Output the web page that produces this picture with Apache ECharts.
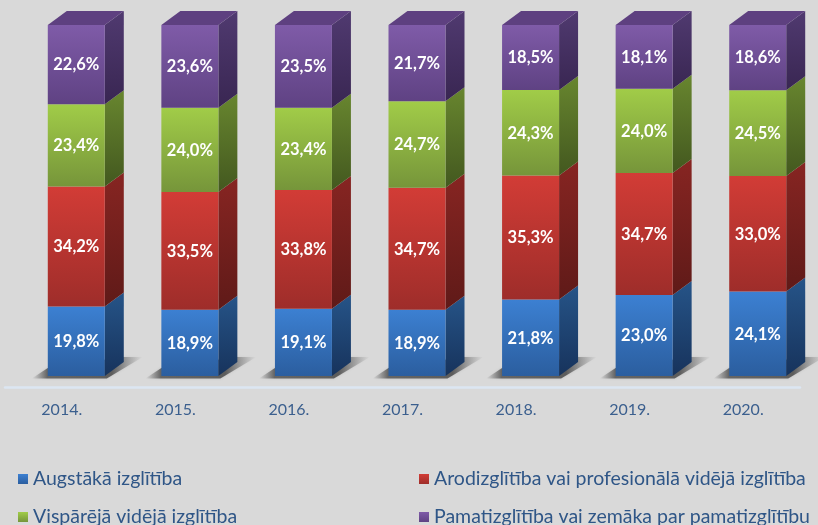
<!DOCTYPE html>
<html><head><meta charset="utf-8">
<style>html,body{margin:0;padding:0;background:#d9d9d9}#c{width:818px;height:525px}</style>
<script src="https://cdn.jsdelivr.net/npm/echarts@6/dist/echarts.min.js"></script>
</head><body><div id="c"></div>
<script>
const years = ['2014.','2015.','2016.','2017.','2018.','2019.','2020.'];
const augstaka = [19.8,18.9,19.1,18.9,21.8,23.0,24.1];
const arodizglitiba = [34.2,33.5,33.8,34.7,35.3,34.7,33.0];
const visparejaVideja = [23.4,24.0,23.4,24.7,24.3,24.0,24.5];
const pamatizglitiba = [22.6,23.6,23.5,21.7,18.5,18.1,18.6];
const seriesNames = ['Augstākā izglītība','Arodizglītība vai profesionālā vidējā izglītība','Vispārējā vidējā izglītība','Pamatizglītība vai zemāka par pamatizglītību'];
const seriesValues = [augstaka,arodizglitiba,visparejaVideja,pamatizglitiba];

const FONT = 'Lato, "Open Sans", sans-serif';
const BAR_W = 57, DX = 19, DY = 14, SHIFT = 14.5;
const palette = [
  {f:['#3c80d2','#2b5e9f'], s:['#265488','#17335c'], t:'#2e5f9c'},
  {f:['#d23c36','#9e2d2a'], s:['#872522','#5f1a18'], t:'#8f2a27'},
  {f:['#a1cc48','#76953a'], s:['#68862f','#43581f'], t:'#6f8b33'},
  {f:['#7f5ba8','#5f4283'], s:['#503a70','#392652'], t:'#5e4080'}
];
const vgrad = (a,b)=>new echarts.graphic.LinearGradient(0,0,0,1,[{offset:0,color:a},{offset:1,color:b}]);
const totals = years.map((_,i)=>seriesValues.reduce((s,a)=>s+a[i],0));

function makeSeries(k){
  const data = years.map((_,i)=>{
    let base = 0;
    for(let j=0;j<k;j++) base += seriesValues[j][i]/totals[i]*100;
    return [i, base, base+seriesValues[k][i]/totals[i]*100, seriesValues[k][i]];
  });
  return {
    type:'custom', name:seriesNames[k], coordinateSystem:'cartesian2d', clip:false,
    itemStyle:{color:vgrad(palette[k].f[0],palette[k].f[1])},
    encode:{x:0,y:[1,2]}, data, z:5,
    renderItem(params,api){
      const c = api.value(0);
      const pb = api.coord([c,api.value(1)]), pt = api.coord([c,api.value(2)]);
      const x0 = pb[0]+SHIFT-BAR_W/2, x1 = x0+BAR_W, yb = pb[1], yt = pt[1];
      const p = palette[k];
      const kids = [
        {type:'polygon',shape:{points:[[x1,yb],[x1+DX,yb-DY],[x1+DX,yt-DY],[x1,yt]]},
         style:{fill:vgrad(p.s[0],p.s[1])}},
        {type:'rect',shape:{x:x0,y:yt,width:BAR_W,height:yb-yt},
         style:{fill:vgrad(p.f[0],p.f[1])}}
      ];
      if(k===seriesValues.length-1){
        kids.push({type:'polygon',shape:{points:[[x0,yt],[x0+DX,yt-DY],[x1+DX,yt-DY],[x1,yt]]},style:{fill:p.t}});
      }
      kids.push({type:'text',style:{x:x0+BAR_W/2,y:(yb+yt)/2+0.5,align:'center',verticalAlign:'middle',
        text:api.value(3).toFixed(1).replace('.',',')+'%',fill:'#fff',font:'bold 16.5px '+FONT}});
      return {type:'group',children:kids};
    }
  };
}
const shadowSeries = {
  type:'custom', clip:false, silent:true, z:2, data:years.map((_,i)=>[i,0]), encode:{x:0,y:1},
  renderItem(params,api){
    const p = api.coord([api.value(0),0]);
    const x0 = p[0]+SHIFT-BAR_W/2, x1 = x0+BAR_W, y = p[1];
    return {type:'group',children:[
      {type:'polygon',shape:{points:[[x0-16,y+2.5],[x1+2,y+2.5],[x1+38,y-19],[x1+18,y-19],[x0,y-8]]},
       style:{fill:new echarts.graphic.LinearGradient(0,0,1,0,[
         {offset:0,color:'rgba(110,110,110,0)'},{offset:0.14,color:'rgba(85,85,85,0.85)'},
         {offset:0.72,color:'rgba(75,75,75,0.85)'},{offset:1,color:'rgba(120,120,120,0)'}]),
         shadowBlur:3,shadowColor:'rgba(110,110,110,0.3)'}}
    ]};
  }
};
const legendText = {color:'#2f5687',fontSize:19.5,fontFamily:FONT};
const legendItem = (k,left,top)=>({data:[seriesNames[k]],left,top,icon:'rect',itemWidth:10,itemHeight:10,itemGap:0,
  padding:0,textStyle:legendText,selectedMode:false});
const chart = echarts.init(document.getElementById('c'),null,{renderer:'canvas'});
chart.setOption({
  animation:false, backgroundColor:'#d9d9d9',
  grid:{left:5,right:18,top:25,bottom:149,containLabel:false},
  xAxis:{type:'category',data:years,offset:11,
    axisLine:{show:true,onZero:false,lineStyle:{color:'#dce6f2',width:2.5}},axisTick:{show:false},
    axisLabel:{color:'#3b5f8e',fontSize:16,fontFamily:FONT,margin:15},splitLine:{show:false}},
  yAxis:{type:'value',min:0,max:100,show:false},
  legend:[legendItem(0,18,469),legendItem(2,18,507),legendItem(1,419,469),legendItem(3,419,507)],
  series:[shadowSeries,...seriesValues.map((_,k)=>makeSeries(k))]
});
</script></body></html>
